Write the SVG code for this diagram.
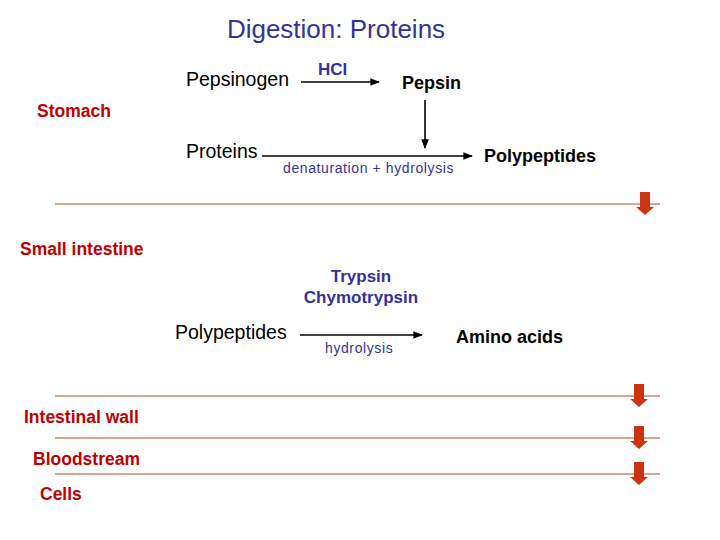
<svg xmlns="http://www.w3.org/2000/svg" width="720" height="540" viewBox="0 0 720 540">
<style>
text{font-family:"Liberation Sans",Arial,sans-serif}
.k{font-size:19.5px;fill:#000}
.kb{font-size:18px;fill:#000;font-weight:bold}
.b{fill:#333399}
.r{font-size:17.5px;fill:#c00000;font-weight:bold}
.c line{stroke:#000;stroke-width:1.6}
.sep{stroke:#b04a22;stroke-width:1.2}
.ra{fill:#cc3311}
</style>
<defs>
<marker id="ah" viewBox="0 0 10 10" refX="9" refY="5" markerWidth="6" markerHeight="6" orient="auto"><path d="M0,1L10,5L0,9z" fill="#000"/></marker>
<g id="redarrow"><rect x="-5" y="0" width="10" height="16" class="ra"/><path d="M-9,15L9,15L0,23z" class="ra"/></g>
</defs>
<text x="336" y="38" font-size="26" class="b" text-anchor="middle">Digestion: Proteins</text>
<g id="n-pepsinogen"><text x="186" y="86" class="k">Pepsinogen</text></g>
<g id="n-hcl"><text x="318" y="75" font-size="17" class="b" font-weight="bold">HCl</text></g>
<g id="n-pepsin"><text x="402" y="89" class="kb">Pepsin</text></g>
<g id="n-stomach"><text x="37" y="117" class="r">Stomach</text></g>
<g id="n-proteins"><text x="186" y="158" class="k">Proteins</text></g>
<g id="n-denat"><text x="283" y="173" font-size="14" letter-spacing="0.6" class="b">denaturation + hydrolysis</text></g>
<g id="n-polypep1"><text x="484" y="162" class="kb">Polypeptides</text></g>
<g id="n-small"><text x="20" y="255" class="r">Small intestine</text></g>
<g id="n-trypsin"><text x="361" y="282" font-size="17" font-weight="bold" class="b" text-anchor="middle">Trypsin</text><text x="361" y="303" font-size="17" font-weight="bold" class="b" text-anchor="middle">Chymotrypsin</text></g>
<g id="n-polypep2"><text x="175" y="339" class="k">Polypeptides</text></g>
<g id="n-hydro"><text x="325" y="353" font-size="14" letter-spacing="0.6" class="b">hydrolysis</text></g>
<g id="n-amino"><text x="456" y="343" class="kb">Amino acids</text></g>
<g id="n-wall"><text x="24" y="423" class="r">Intestinal wall</text></g>
<g id="n-blood"><text x="33" y="465" class="r">Bloodstream</text></g>
<g id="n-cells"><text x="40" y="500" class="r">Cells</text></g>
<g id="connectors" class="c">
<line x1="301" y1="82" x2="379" y2="82" marker-end="url(#ah)"/>
<line x1="425" y1="100" x2="425" y2="148" marker-end="url(#ah)"/>
<line x1="262" y1="156" x2="472" y2="156" marker-end="url(#ah)"/>
<line x1="300" y1="335" x2="422" y2="335" marker-end="url(#ah)"/>
</g>
<g id="separators">
<line class="sep" x1="55" y1="204" x2="660" y2="204"/>
<line class="sep" x1="55" y1="396" x2="660" y2="396"/>
<line class="sep" x1="55" y1="438" x2="660" y2="438"/>
<line class="sep" x1="55" y1="474" x2="660" y2="474"/>
<use href="#redarrow" x="645" y="192"/>
<use href="#redarrow" x="639" y="384"/>
<use href="#redarrow" x="639" y="426"/>
<use href="#redarrow" x="639" y="462"/>
</g>
</svg>
